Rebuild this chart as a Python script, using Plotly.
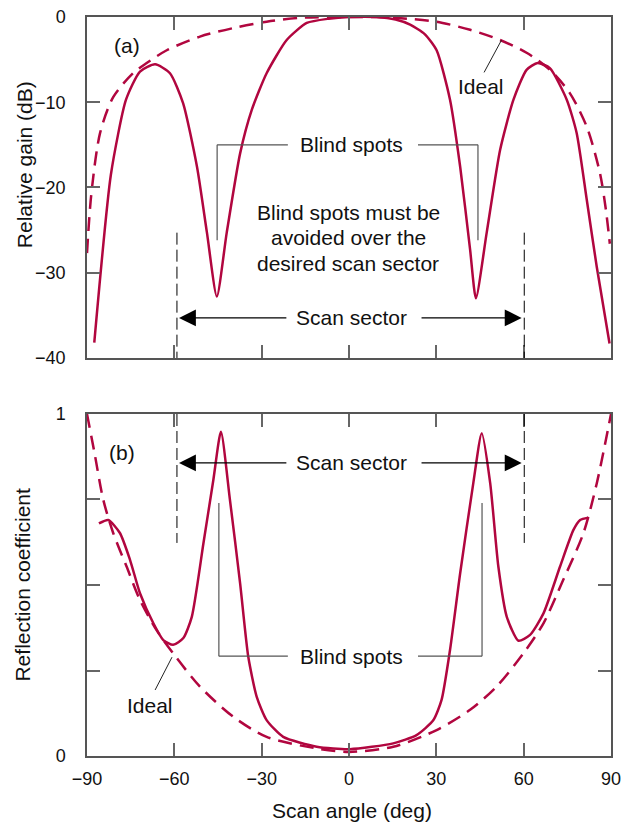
import plotly.graph_objects as go

# (a) relative gain, dB
angulo_ganancia = [-87.5, -81.8, -76.6, -71.8, -66.6, -61.5, -57, -52.2, -48.8, -45.4, -42, -37.4,
                   -33.4, -28.3, -21.4, -14.5, -7, 0, 9.5, 16, 21, 26, 30.1, 34.7, 38.2, 41.6, 43.6,
                   47.3, 51.9, 56.5, 61, 64.8, 69, 74.8, 78.2, 81.7, 85.1, 89.5]
ganancia = [-38.2, -18.5, -9.7, -6.4, -5.55, -6.6, -10.1, -17.6, -25.3, -32.8, -25.3, -16,
            -10.9, -6.6, -2.7, -0.7, -0.2, 0, 0, -0.3, -0.9, -2.0, -3.9, -9.7, -17.6, -27.3, -33,
            -25.3, -15.6, -9.7, -6.2, -5.4, -6.0, -9.7, -13.6, -21.5, -29.3, -38.3]

angulo_ideal_a = [-90, -88.5, -85.5, -81, -74.2, -69.5, -62.6, -51.2, -39.8, -28.3, -16.8, 0, 9.5,
                  20, 30, 41.6, 51.9, 61, 69, 75.8, 81.7, 86.2, 88.2, 89.6]
ganancia_ideal = [-27.7, -20.7, -13.6, -9.4, -6.6, -5.4, -3.9, -2.3, -1.3, -0.55, -0.1, 0, 0,
                  -0.2, -0.55, -1.5, -2.7, -4.2, -6.2, -8.9, -12.9, -18.3, -22.5, -26.6]

# (b) reflection coefficient
angulo_refl = [-85.9, -82.7, -78.7, -75.2, -71.8, -67.2, -63.8, -60.4, -56.9, -54, -50, -46.6, -44,
               -40.9, -37.4, -34.6, -31.7, -28.3, -22.6, -11.1, 0.3, 15.2, 23.2, 29, 31.8, 34.7,
               38.2, 42.7, 45.6, 48.5, 51.3, 54.2, 58.2, 62.2, 66.8, 72.5, 77.1, 79.4, 82.2]
reflexion = [0.68, 0.69, 0.652, 0.573, 0.476, 0.388, 0.339, 0.325, 0.345, 0.407, 0.622, 0.807, 0.948,
             0.749, 0.505, 0.29, 0.173, 0.105, 0.056, 0.027, 0.02, 0.037, 0.061, 0.105, 0.164, 0.31,
             0.535, 0.798, 0.944, 0.798, 0.554, 0.407, 0.337, 0.354, 0.417, 0.554, 0.661, 0.69, 0.697]

angulo_ideal_b = [-90, -87.4, -84.4, -81, -76.4, -71.8, -66.1, -60.4, -51.2, -39.8, -28.3, -11, 0,
                  15.2, 30.1, 41.6, 50.7, 59.9, 66.8, 73.6, 80.5, 85.1, 90]
reflexion_ideal = [1.0, 0.885, 0.749, 0.652, 0.554, 0.456, 0.368, 0.3, 0.203, 0.115, 0.056, 0.022,
                   0.012, 0.027, 0.076, 0.135, 0.203, 0.3, 0.388, 0.515, 0.651, 0.797, 1.0]

ticks_x = [-90, -60, -30, 0, 30, 60, 90]
etiquetas_x = ['\u221290', '\u221260', '\u221230', '0', '30', '60', '90']
ticks_a = [-40, -30, -20, -10, 0]
etiquetas_a = ['\u221240', '\u221230', '\u221220', '\u221210', '0']
ticks_b = [0, 0.25, 0.5, 0.75, 1]
etiquetas_b = ['0', '', '', '', '1']

CARMIN = '#b1063f'
FUENTE = 'Liberation Sans'
GRIS = '#555555'

fig = go.Figure()

fig.add_trace(go.Scatter(x=angulo_ideal_a, y=ganancia_ideal, mode='lines', xaxis='x', yaxis='y',
                         line=dict(color=CARMIN, width=2.5, dash='14px,8px', shape='spline', smoothing=0.8)))
fig.add_trace(go.Scatter(x=angulo_ganancia, y=ganancia, mode='lines', xaxis='x', yaxis='y',
                         line=dict(color=CARMIN, width=2.5, shape='spline', smoothing=0.6)))
fig.add_trace(go.Scatter(x=angulo_ideal_b, y=reflexion_ideal, mode='lines', xaxis='x2', yaxis='y2',
                         line=dict(color=CARMIN, width=2.5, dash='14px,8px', shape='spline', smoothing=0.8)))
fig.add_trace(go.Scatter(x=angulo_refl, y=reflexion, mode='lines', xaxis='x2', yaxis='y2',
                         line=dict(color=CARMIN, width=2.5, shape='spline', smoothing=0.6)))

eje = dict(showline=True, linecolor=GRIS, linewidth=1.5, mirror='ticks', ticks='inside',
           ticklen=13, tickwidth=1.5, tickcolor='#666666', showgrid=False, zeroline=False,
           automargin=False, ticklabeloverflow='allow',
           tickfont=dict(family=FUENTE, size=18, color='#111111'))

# el body de la pagina deja 8 px arriba y a la izquierda: se compensa en los margenes
fig.update_layout(
    width=622, height=817,
    margin=dict(l=79, r=19, t=9, b=69),
    plot_bgcolor='white', paper_bgcolor='white',
    showlegend=False,
    font=dict(family=FUENTE, size=21, color='#111111'),
    xaxis=dict(eje, domain=[0, 1], anchor='y', range=[-90, 90], tickvals=[-60, -30, 0, 30, 60],
               showticklabels=False),
    yaxis=dict(eje, domain=[0.5386, 1], anchor='x', range=[-40, 0], tickvals=ticks_a,
               ticktext=etiquetas_a, ticklabelstandoff=16),
    xaxis2=dict(eje, domain=[0, 1], anchor='y2', range=[-90, 90], tickvals=ticks_x,
                ticktext=etiquetas_x, ticklabelstandoff=6),
    yaxis2=dict(eje, domain=[0, 0.4628], anchor='x2', range=[0, 1], tickvals=ticks_b,
                ticktext=etiquetas_b, ticklabelstandoff=16),
)

formas = []
anot = []


def linea(x0, y0, x1, y1, xr, yr, color=GRIS, ancho=1.2, dash=None):
    formas.append(dict(type='line', xref=xr, yref=yr, x0=x0, y0=y0, x1=x1, y1=y1,
                       line=dict(color=color, width=ancho, dash=dash)))


def texto(t, x, y, xr, yr, **kw):
    anot.append(dict(text=t, x=x, y=y, xref=xr, yref=yr, showarrow=False,
                     xanchor='center', yanchor='middle', **kw))


def flecha(x, y, ax, xr, yr):
    anot.append(dict(text='', x=x, y=y, ax=ax, ay=y, xref=xr, yref=yr, axref=xr, ayref=yr,
                     showarrow=True, arrowhead=2, arrowsize=2.6, arrowwidth=1.3, arrowcolor='black'))


# panel (a)
texto('(a)', -76.3, -3.4, 'x', 'y')
texto('Ideal', 45.3, -8.1, 'x', 'y')
linea(52.4, -2.7, 46.4, -6.5, 'x', 'y', color='#222222', ancho=1)
texto('Blind spots', 1.0, -15.0, 'x', 'y')
linea(-45.3, -26.2, -45.3, -15.0, 'x', 'y')
linea(-45.3, -15.0, -21.0, -15.0, 'x', 'y')
linea(23.7, -15.0, 44.3, -15.0, 'x', 'y')
linea(44.3, -15.0, 44.3, -26.2, 'x', 'y')
texto('Blind spots must be', -0.3, -22.9, 'x', 'y')
texto('avoided over the', -0.3, -25.9, 'x', 'y')
texto('desired scan sector', -0.3, -28.9, 'x', 'y')
texto('Scan sector', 1.0, -35.3, 'x', 'y')
flecha(-58.4, -35.3, -21.0, 'x', 'y')
flecha(59.3, -35.3, 24.4, 'x', 'y')
linea(-59.1, -25.3, -59.1, -40, 'x', 'y', color='black', ancho=1, dash='12px,5px')
linea(60.2, -25.3, 60.2, -40, 'x', 'y', color='black', ancho=1, dash='12px,5px')

# panel (b)
texto('(b)', -78.0, 0.886, 'x2', 'y2')
texto('Scan sector', 1.0, 0.857, 'x2', 'y2')
flecha(-58.4, 0.857, -21.0, 'x2', 'y2')
flecha(59.3, 0.857, 24.4, 'x2', 'y2')
linea(-59.1, 1, -59.1, 0.623, 'x2', 'y2', color='black', ancho=1, dash='12px,5px')
linea(60.2, 1, 60.2, 0.623, 'x2', 'y2', color='black', ancho=1, dash='12px,5px')
texto('Blind spots', 1.0, 0.292, 'x2', 'y2')
linea(-44.7, 0.74, -44.7, 0.292, 'x2', 'y2')
linea(-44.7, 0.292, -21.0, 0.292, 'x2', 'y2')
linea(23.7, 0.292, 45.7, 0.292, 'x2', 'y2')
linea(45.7, 0.292, 45.7, 0.74, 'x2', 'y2')
texto('Ideal', -68.4, 0.149, 'x2', 'y2')
linea(-66.6, 0.193, -60.8, 0.289, 'x2', 'y2', color='#222222', ancho=1)

# titulos de ejes
texto('Relative gain (dB)', -0.120, 0.7997, 'paper', 'paper', textangle=-90)
texto('Reflection coefficient', -0.123, 0.2314, 'paper', 'paper', textangle=-90)
texto('Scan angle (deg)', 0.506, -0.0744, 'paper', 'paper')

fig.update_layout(shapes=formas, annotations=anot)

fig.write_html("out.html")
